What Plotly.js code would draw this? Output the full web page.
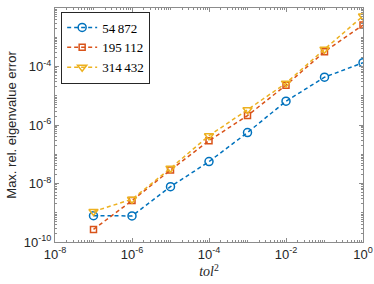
<!DOCTYPE html>
<html><head><meta charset="utf-8">
<script src="https://cdn.plot.ly/plotly-3.0.1.min.js"></script>
<style>html,body{margin:0;padding:0;background:#fff}#c{width:374px;height:284px}</style>
</head><body><div id="c"></div>
<script>
const tol2 = [1e-7, 1e-6, 1e-5, 1e-4, 1e-3, 1e-2, 1e-1, 1e0];
const names = ["54\u2009872", "195\u2009112", "314\u2009432"];
const err54872  = [7.9e-10, 7.8e-10, 7.8e-9, 5.6e-8, 5.5e-7, 6.5e-6, 4.3e-5, 1.35e-4];
const err195112 = [2.7e-10, 2.6e-9, 2.9e-8, 2.9e-7, 2.1e-6, 2.3e-5, 3.2e-4, 2.6e-3];
const err314432 = [1.1e-9, 2.9e-9, 3.3e-8, 4.3e-7, 3.3e-6, 2.7e-5, 3.9e-4, 5.3e-3];
const xTickVals = [1e-8, 1e-6, 1e-4, 1e-2, 1e0];
const xTickText = ["10<sup>-8</sup>", "10<sup>-6</sup>", "10<sup>-4</sup>", "10<sup>-2</sup>", "10<sup>0</sup>"];
const yTickVals = [1e-10, 1e-8, 1e-6, 1e-4, 1e-2];
const yTickText = ["10<sup>-10</sup>", "10<sup>-8</sup>", "10<sup>-6</sup>", "10<sup>-4</sup>", "10<sup>-2</sup>"];
const colors = ["#0072BD", "#D95319", "#EDB120"];
const symbols = ["circle-open", "square-open", "triangle-down-open"];
const ys = [err54872, err195112, err314432];

function minorVals(lo, hi) {
  const v = [];
  for (let d = lo; d < hi; d++) for (let k = 1; k <= 9; k++) v.push(k * Math.pow(10, d));
  v.push(Math.pow(10, hi));
  return v;
}
const traces = ys.map((y, i) => ({
  x: tol2, y: y, name: names[i], type: "scatter", mode: "lines+markers",
  line: {color: colors[i], width: 1.5, dash: "4px,3px"},
  marker: {symbol: symbols[i], color: colors[i], size: i === 1 ? 6 : 8, line: {width: 1.5, color: colors[i]}}
}));
function axis(tv, tt, mv) {
  return {
    type: "log", showgrid: false, zeroline: false, showline: true, linecolor: "#8c8c8c", linewidth: 1,
    mirror: "allticks", ticks: "inside", ticklen: 4, tickcolor: "#8c8c8c",
    tickmode: "array", tickvals: tv, ticktext: tt,
    tickfont: {family: "Liberation Sans, Arial", size: 13, color: "#262626"},
    minor: {ticks: "inside", ticklen: 2, tickcolor: "#8c8c8c", tickmode: "array", tickvals: mv, showgrid: false}
  };
}
const layout = {
  width: 374, height: 284, margin: {l: 55, r: 11, t: 8, b: 42},
  paper_bgcolor: "#fff", plot_bgcolor: "#fff", showlegend: true,
  xaxis: Object.assign(axis(xTickVals, xTickText, minorVals(-8, 0)), {range: [-8, 0],
    title: {text: "<i>tol</i><sup>2</sup>", font: {family: "Liberation Serif, Times New Roman", size: 14, color: "#262626"}, standoff: 2}}),
  yaxis: Object.assign(axis(yTickVals, yTickText, minorVals(-10, -2)), {range: [-10, -2],
    title: {text: "Max. rel. eigenvalue error", font: {family: "Liberation Sans, Arial", size: 13, color: "#262626"}, standoff: 4}}),
  legend: {x: 0.02, y: 0.985, xanchor: "left", yanchor: "top", bgcolor: "#fff", bordercolor: "#262626", borderwidth: 1,
    font: {family: "Liberation Serif, Times New Roman", size: 13, color: "#000"}, itemwidth: 30, tracegroupgap: 0}
};
Plotly.newPlot("c", traces, layout, {displayModeBar: false, staticPlot: true});
</script></body></html>
